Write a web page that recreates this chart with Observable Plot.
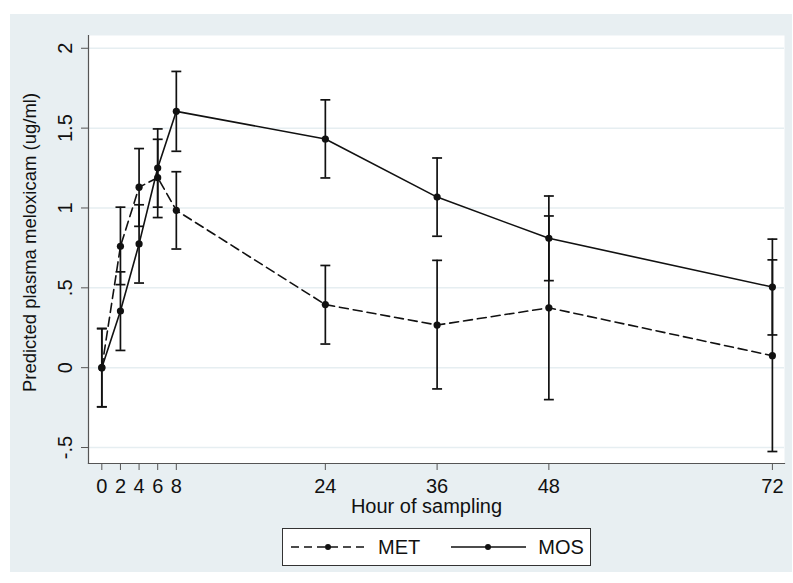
<!DOCTYPE html>
<html>
<head>
<meta charset="utf-8">
<script src="https://cdn.jsdelivr.net/npm/d3@7"></script>
<script src="https://cdn.jsdelivr.net/npm/@observablehq/plot@0.6"></script>
<style>
  html, body { margin: 0; padding: 0; background: #ffffff; }
  body { width: 793px; height: 583px; position: relative; overflow: hidden; font-family: "Liberation Sans", Arial, sans-serif; }
  #bg { position: absolute; left: 10px; top: 14px; width: 782px; height: 558px; background: #e8eff2; }
  #chart { position: absolute; left: 0; top: 0; }
  #legend { position: absolute; left: 282px; top: 528px; width: 307px; height: 36px; background: #fff; border: 1px solid #333;
            display: flex; align-items: center; font-size: 20px; color: #111; }
  #legend .item { display: flex; align-items: center; }
  #legend svg { display: block; }
</style>
</head>
<body>
<div id="bg"></div>
<div id="chart"></div>
<div id="legend"></div>
<script>
const hours   = [0, 2, 4, 6, 8, 24, 36, 48, 72];
const metMean = [0, 0.76, 1.13, 1.19, 0.985, 0.395, 0.267, 0.375, 0.075];
const metLo   = [-0.245, 0.52, 0.885, 0.94, 0.743, 0.148, -0.133, -0.20, -0.525];
const metHi   = [0.245, 1.005, 1.372, 1.43, 1.227, 0.64, 0.672, 0.95, 0.675];
const mosMean = [0, 0.355, 0.775, 1.25, 1.605, 1.432, 1.068, 0.81, 0.505];
const mosLo   = [-0.245, 0.108, 0.53, 1.005, 1.355, 1.188, 0.823, 0.545, 0.205];
const mosHi   = [0.245, 0.60, 1.02, 1.495, 1.855, 1.677, 1.313, 1.075, 0.805];
const xTicks  = [0, 2, 4, 6, 8, 24, 36, 48, 72];
const yTicks  = [-0.5, 0, 0.5, 1, 1.5, 2];
const yTickLabels = ["-.5", "0", ".5", "1", "1.5", "2"];
const groups  = ["MET", "MOS"];

const rows = [];
hours.forEach((h, i) => {
  rows.push({group: "MET", hour: h, mean: metMean[i], lo: metLo[i], hi: metHi[i]});
  rows.push({group: "MOS", hour: h, mean: mosMean[i], lo: mosLo[i], hi: mosHi[i]});
});
const met = rows.filter(d => d.group === "MET");
const mos = rows.filter(d => d.group === "MOS");

const capSymbol = {
  draw(context, size) {
    const w = Math.sqrt(size) / 2;
    context.moveTo(-w, 0);
    context.lineTo(w, 0);
  }
};

const ink = "#111";
const font = "Liberation Sans, Arial, sans-serif";

const chart = Plot.plot({
  width: 793,
  height: 528,
  marginTop: 35,
  marginRight: 9,
  marginBottom: 65,
  marginLeft: 88,
  style: { background: "transparent", fontFamily: font, color: ink, overflow: "visible" },
  x: { domain: [-1.43, 73.3] },
  y: { domain: [-0.6, 2.08] },
  marks: [
    Plot.frame({ fill: "white", stroke: null }),
    Plot.gridY(yTicks, { stroke: "#e6eef1", strokeOpacity: 1, strokeWidth: 1.5 }),
    Plot.frame({ anchor: "left", stroke: "#555", strokeWidth: 1.2 }),
    Plot.frame({ anchor: "bottom", stroke: "#555", strokeWidth: 1.2 }),
    Plot.axisX({ ticks: xTicks, tickFormat: d => String(d), tickSize: 7, tickPadding: 8, fontSize: 20, label: null, stroke: "#555" }),
    Plot.axisY({ ticks: yTicks, tickFormat: d => yTickLabels[yTicks.indexOf(d)], tickRotate: -90, tickSize: 7, tickPadding: 10, fontSize: 20, label: null, stroke: "#555" }),
    Plot.text(["Hour of sampling"], { frameAnchor: "bottom", dy: 49, dx: -10, fontSize: 20, fill: ink }),
    Plot.text(["Predicted plasma meloxicam (ug/ml)"], { frameAnchor: "left", textAnchor: "middle", dx: -58, dy: -7, rotate: -90, fontSize: 18.5, fill: ink }),
    // error bars
    Plot.ruleX(rows, { x: "hour", y1: "lo", y2: "hi", stroke: ink, strokeWidth: 1.7 }),
    Plot.dot(rows, { x: "hour", y: "lo", symbol: capSymbol, r: 5.6, stroke: ink, strokeWidth: 1.7, fill: "none" }),
    Plot.dot(rows, { x: "hour", y: "hi", symbol: capSymbol, r: 5.6, stroke: ink, strokeWidth: 1.7, fill: "none" }),
    // lines
    Plot.line(met, { x: "hour", y: "mean", stroke: ink, strokeWidth: 1.6, strokeDasharray: "9,5" }),
    Plot.line(mos, { x: "hour", y: "mean", stroke: ink, strokeWidth: 1.6 }),
    Plot.dot(rows, { x: "hour", y: "mean", r: 3.6, fill: ink, stroke: null })
  ]
});
document.getElementById("chart").appendChild(chart);

// legend
const legend = document.getElementById("legend");
const swatch = (dashed) => {
  const ns = "http://www.w3.org/2000/svg";
  const s = document.createElementNS(ns, "svg");
  s.setAttribute("width", 75); s.setAttribute("height", 12);
  const l = document.createElementNS(ns, "line");
  l.setAttribute("x1", 0); l.setAttribute("x2", 75); l.setAttribute("y1", 6); l.setAttribute("y2", 6);
  l.setAttribute("stroke", ink); l.setAttribute("stroke-width", 1.6);
  if (dashed) l.setAttribute("stroke-dasharray", "8,5");
  const c = document.createElementNS(ns, "circle");
  c.setAttribute("cx", 37); c.setAttribute("cy", 6); c.setAttribute("r", 3); c.setAttribute("fill", ink);
  s.appendChild(l); s.appendChild(c);
  return s;
};
groups.forEach((g, i) => {
  const item = document.createElement("div");
  item.className = "item";
  item.style.marginLeft = i === 0 ? "8px" : "31px";
  item.appendChild(swatch(g === "MET"));
  const t = document.createElement("span");
  t.textContent = g;
  t.style.marginLeft = "12px";
  item.appendChild(t);
  legend.appendChild(item);
});
</script>
</body>
</html>
